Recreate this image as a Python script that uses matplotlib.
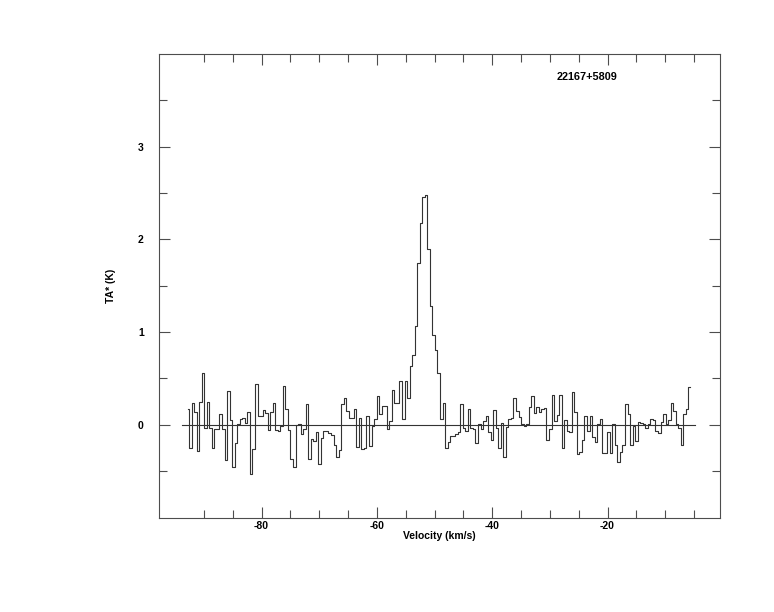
import numpy as np
import matplotlib
matplotlib.use('Agg')
import matplotlib.pyplot as plt
from matplotlib.ticker import FixedLocator

plt.rcParams['font.family'] = ['Liberation Sans', 'DejaVu Sans']
plt.rcParams['font.weight'] = 'bold'
plt.rcParams['axes.unicode_minus'] = False

# spectrum of 22167+5809, channel centres from v_first to v_last (km/s)
source = '22167+5809'
v_first, v_last = -92.8, -5.76
ta = [0.17, -0.25, 0.24, 0.14, -0.28, 0.25, 0.56, -0.03, 0.25, -0.03,
      -0.25, -0.05, -0.04, 0.12, -0.04, -0.38, 0.36, 0.05, -0.46, -0.20,
      0.01, 0.06, 0.07, 0.02, 0.14, -0.53, -0.26, 0.44, 0.09, 0.10,
      0.16, 0.13, -0.06, 0.14, 0.24, -0.06, -0.07, -0.01, 0.42, 0.17,
      -0.06, -0.37, -0.45, 0.00, 0.01, -0.10, -0.05, 0.22, -0.37, -0.15,
      -0.17, -0.08, -0.42,
      -0.14, -0.07, -0.07, -0.09, -0.11, -0.22, -0.35, -0.27, 0.22, 0.29,
      0.15, 0.07, 0.07, 0.17, -0.24, 0.07, -0.26, -0.25, 0.09, -0.23,
      -0.01, 0.06, 0.31, 0.12, 0.20, 0.20, -0.04,
      0.04, 0.38, 0.24, 0.24, 0.47, 0.06, 0.47, 0.29, 0.63, 0.75,
      1.07, 1.74, 2.18, 2.46, 2.48, 1.90, 1.28, 0.97, 0.81, 0.56,
      0.06, 0.24, -0.25, -0.19, -0.12, -0.12, -0.10, -0.08, 0.22, -0.03,
      -0.07, 0.17, -0.03, -0.04, -0.20, 0.01, -0.04, 0.04, 0.09, -0.08,
      -0.16, 0.16, -0.03, -0.25, 0.02, -0.35, -0.02, 0.06, 0.07, 0.29,
      0.15, 0.08, 0.01, -0.01, 0.01, 0.19, 0.31, 0.13, 0.19, 0.14,
      0.17, 0.18, -0.16, -0.04, 0.32, 0.04, 0.11, 0.32, -0.25, 0.05,
      -0.07, -0.08,
      0.35, 0.14, -0.31, -0.29, -0.16, 0.09, -0.07, 0.09, -0.13, -0.19,
      0.01, 0.06, -0.30, -0.30, -0.08, -0.30, 0.01, -0.22, -0.40, -0.29,
      -0.22, 0.22, 0.12, -0.22, -0.01, -0.17, 0.03, 0.02, 0.01, -0.03,
      0.01, 0.06, 0.05, -0.07, -0.09, 0.03, 0.12, 0.01, 0.05, 0.24,
      0.15, 0.01, -0.03, -0.22, 0.12, 0.17, 0.41]
baseline_v = [-93.8, -4.9]

x_major = [-80, -60, -40, -20]
x_minor = list(np.arange(-90, -4, 5))
y_major = [0, 1, 2, 3]
y_minor = list(np.arange(-0.5, 3.6, 0.5))

vel = np.linspace(v_first, v_last, len(ta))

fig = plt.figure(figsize=(7.74, 6.12), dpi=100)
ax = fig.add_axes([0.2054, 0.1544, 0.7248, 0.7574])
ax.plot(vel, ta, drawstyle='steps-mid', color='0.2', lw=0.8)
ax.plot(baseline_v, [0, 0], color='0.2', lw=0.8)

ax.set_xlim(-97.8, -0.5)
ax.set_ylim(-1, 4)
ax.xaxis.set_major_locator(FixedLocator(x_major))
ax.xaxis.set_minor_locator(FixedLocator(x_minor))
ax.yaxis.set_major_locator(FixedLocator(y_major))
ax.yaxis.set_minor_locator(FixedLocator(y_minor))
ax.tick_params(which='both', direction='in', top=True, right=True,
               labelsize=7.5, color='0.3', width=0.8)
ax.tick_params(axis='x', pad=2.5)
ax.tick_params(axis='y', pad=11)
ax.tick_params(which='major', length=8)
ax.tick_params(which='minor', length=5.5)
for s in ax.spines.values():
    s.set_color('0.3')
    s.set_linewidth(0.8)

fig.text(0.1434, 0.5335, 'TA* (K)', rotation=90, ha='center', va='center',
         fontsize=7.5, weight='bold')
fig.text(0.567, 0.1235, 'Velocity (km/s)', ha='center', va='center',
         fontsize=7.5, weight='bold')
fig.text(0.7193, 0.8742, source, ha='left', va='center',
         fontsize=7.8, weight='bold')

fig.savefig('out.png', dpi=100)
